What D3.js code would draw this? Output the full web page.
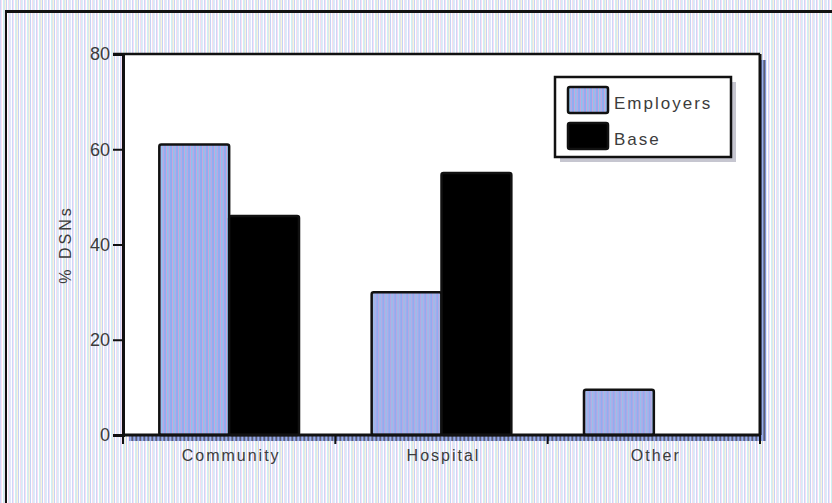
<!DOCTYPE html>
<html>
<head>
<meta charset="utf-8">
<script src="https://cdn.jsdelivr.net/npm/d3@7/dist/d3.min.js"></script>
<style>
  html, body { margin: 0; padding: 0; background: #fff; overflow: hidden; }
  svg { display: block; }
  text { font-family: "Liberation Sans", Arial, sans-serif; fill: #3c3c3c; }
</style>
</head>
<body>
<svg id="chart" width="832" height="503"></svg>
<script>
// Workplace setting of DSNs, employers vs. base survey
const categories = ["Community", "Hospital", "Other"];
const seriesNames = ["Employers", "Base"];
const employers = [61, 30, 9.5];
const base = [46, 55, 0];
const yTicks = [0, 20, 40, 60, 80];
const yTitle = "% DSNs";

const svg = d3.select("#chart");
const W = 832, H = 503;
const margin = { left: 123, right: 72, top: 54, bottom: 68 };
const plotW = W - margin.left - margin.right;
const plotH = H - margin.top - margin.bottom;

const defs = svg.append("defs");

// vertical dithered stripe fills
function stripes(id, colors) {
  const p = defs.append("pattern")
    .attr("id", id).attr("patternUnits", "userSpaceOnUse")
    .attr("width", colors.length).attr("height", 4);
  colors.forEach((c, i) => {
    p.append("rect").attr("x", i).attr("y", 0).attr("width", 1).attr("height", 4).attr("fill", c);
  });
}
stripes("bgFill", ["#cdd6f8", "#f7e0f3", "#ffffff", "#cff1f2", "#e2e3ec", "#f6f6da",
                   "#c6d2f7", "#ffffff", "#f5dcf0", "#d6edf5", "#e3e7fb", "#ffffff"]);
stripes("empFill", ["#93aaf0", "#c8a6dc", "#8fc4ea", "#a3b4ee", "#b9a9e0", "#8eb0f2"]);
stripes("shadowFill", ["#5f6070", "#7f93d8", "#9aaee8", "#6f7aa8"]);

// page background and frame
svg.append("rect").attr("width", W).attr("height", H).attr("fill", "url(#bgFill)");
svg.append("line").attr("x1", 5).attr("x2", W).attr("y1", 11.5).attr("y2", 11.5)
  .attr("stroke", "#111").attr("stroke-width", 3);
svg.append("line").attr("x1", 6).attr("x2", 6).attr("y1", 10).attr("y2", H)
  .attr("stroke", "#111").attr("stroke-width", 2);

const x0 = d3.scaleBand().domain(categories).range([margin.left, margin.left + plotW]);
const x1 = d3.scaleBand().domain(seriesNames).range([0, x0.bandwidth()]).paddingOuter(0.52);
const y = d3.scaleLinear().domain([0, 80]).range([margin.top + plotH, margin.top]);

// plot panel with drop shadow
svg.append("rect")
  .attr("x", margin.left + 6).attr("y", margin.top + 6)
  .attr("width", plotW).attr("height", plotH).attr("fill", "url(#shadowFill)");
svg.append("rect")
  .attr("x", margin.left).attr("y", margin.top)
  .attr("width", plotW).attr("height", plotH).attr("fill", "#fff");
svg.append("line")
  .attr("x1", margin.left - 10).attr("x2", margin.left + plotW)
  .attr("y1", margin.top).attr("y2", margin.top)
  .attr("stroke", "#111").attr("stroke-width", 2.5);
svg.append("line")
  .attr("x1", margin.left + plotW).attr("x2", margin.left + plotW)
  .attr("y1", margin.top).attr("y2", margin.top + plotH)
  .attr("stroke", "#111").attr("stroke-width", 3);

// bars
const rows = categories.map((c, i) => ({ cat: c, vals: [
  { key: "Employers", v: employers[i] }, { key: "Base", v: base[i] }
] }));
const fills = { Employers: "url(#empFill)", Base: "#000" };

svg.append("g").selectAll("g").data(rows).join("g")
  .attr("transform", d => `translate(${x0(d.cat)},0)`)
  .selectAll("rect").data(d => d.vals.filter(v => v.v > 0)).join("rect")
  .attr("x", d => x1(d.key))
  .attr("width", x1.bandwidth())
  .attr("y", d => y(d.v))
  .attr("height", d => y(0) - y(d.v))
  .attr("rx", 2)
  .attr("fill", d => fills[d.key])
  .attr("stroke", "#111").attr("stroke-width", 2.5);

// y axis
const yAxis = svg.append("g")
  .attr("transform", `translate(${margin.left},0)`)
  .call(d3.axisLeft(y).tickValues(yTicks).tickSize(10).tickPadding(3));
yAxis.select(".domain").attr("stroke", "#111").attr("stroke-width", 3);
yAxis.selectAll(".tick line").attr("stroke", "#111").attr("stroke-width", 2);
yAxis.selectAll(".tick text").style("font-size", "18px").attr("fill", "#3c3c3c");

// x axis: ticks at category boundaries
const bounds = categories.map(c => x0(c)).concat([margin.left + plotW]);
svg.append("line")
  .attr("x1", margin.left).attr("x2", margin.left + plotW)
  .attr("y1", y(0)).attr("y2", y(0))
  .attr("stroke", "#111").attr("stroke-width", 3);
svg.append("g").selectAll("line").data(bounds).join("line")
  .attr("x1", d => d).attr("x2", d => d)
  .attr("y1", y(0)).attr("y2", y(0) + 9)
  .attr("stroke", "#111").attr("stroke-width", 2);
svg.append("g").selectAll("text").data(categories).join("text")
  .attr("x", d => x0(d) + x0.bandwidth() / 2 + 2)
  .attr("y", y(0) + 26)
  .attr("text-anchor", "middle")
  .style("font-size", "16px").style("letter-spacing", "2px")
  .text(d => d);

// y title
svg.append("text")
  .attr("transform", `translate(71,${(y(0) + y(80)) / 2}) rotate(-90)`)
  .attr("text-anchor", "middle")
  .style("font-size", "16px").style("letter-spacing", "3px")
  .text(yTitle);

// legend
const lg = svg.append("g").attr("transform", "translate(555,77)");
lg.append("rect").attr("x", 5).attr("y", 5).attr("width", 176).attr("height", 80).attr("fill", "#b8b8c4").attr("opacity", 0.8);
lg.append("rect").attr("width", 176).attr("height", 80).attr("fill", "#fff")
  .attr("stroke", "#111").attr("stroke-width", 2.5);
seriesNames.forEach((s, i) => {
  lg.append("rect").attr("x", 13).attr("y", 10 + i * 36).attr("width", 40).attr("height", 26)
    .attr("rx", 2).attr("fill", fills[s]).attr("stroke", "#111").attr("stroke-width", 2.5);
  lg.append("text").attr("x", 59).attr("y", 32 + i * 36)
    .style("font-size", "17px").style("letter-spacing", "2px")
    .text(s);
});
</script>
</body>
</html>
